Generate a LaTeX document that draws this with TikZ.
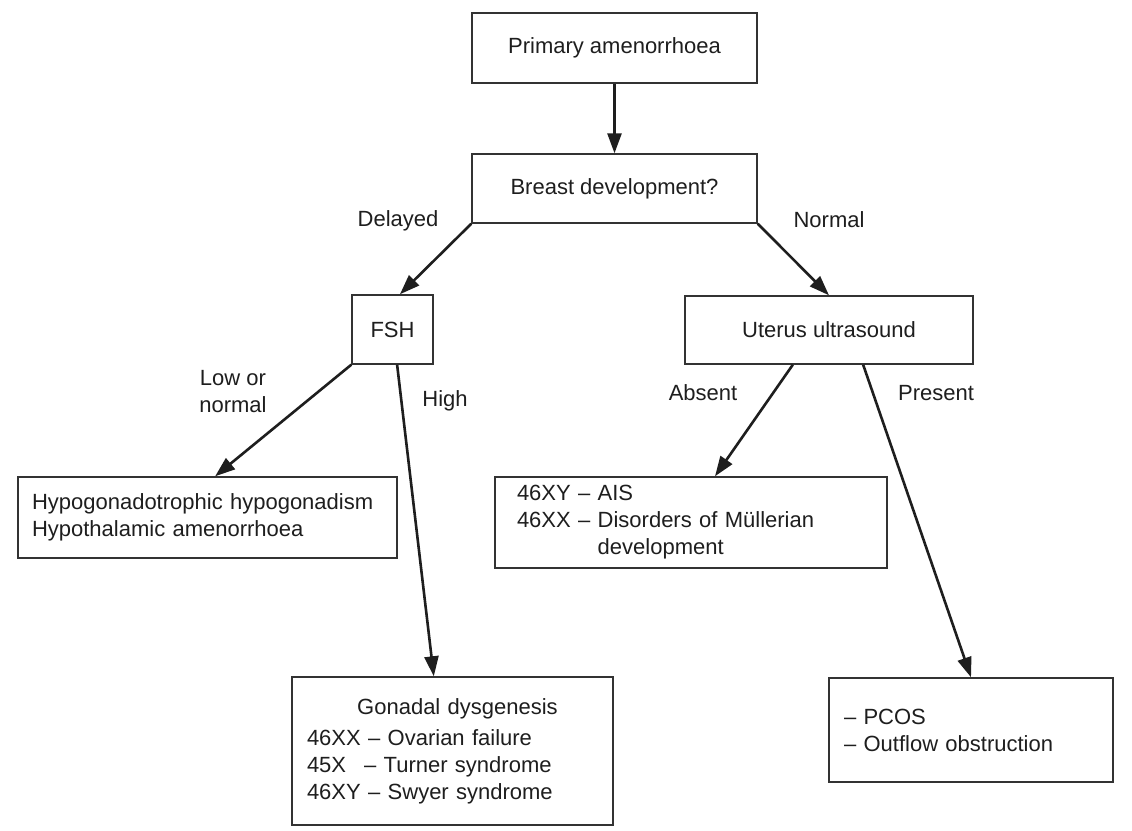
\documentclass[tikz,border=0pt]{standalone}
\usepackage{fontspec}
\setmainfont{Liberation Sans}
\usetikzlibrary{arrows.meta,calc}
\definecolor{ink}{HTML}{1E1E1E}
\definecolor{edgegray}{HTML}{333333}
\begin{document}
\begin{tikzpicture}[x=1pt,y=-1pt,
  every node/.style={font=\fontsize{22}{27}\selectfont, text=ink},
  box/.style={draw=edgegray, line width=1.4pt, inner sep=0pt, fill=white},
  lbl/.style={inner sep=0pt},
  arr/.style={draw=ink, line width=2.6pt, -{Triangle[length=20pt,width=14pt]}}
]
\fill[white] (0,0) rectangle (1132,830);
\useasboundingbox (0,0) rectangle (1132,830);

\node[box, minimum width=285pt, minimum height=70pt] (pa) at (614.5,48) {Primary amenorrhoea};
\node[box, minimum width=285pt, minimum height=69pt] (bd) at (614.5,188.5) {Breast development?};
\node[box, minimum width=81pt, minimum height=69pt] (fsh) at (392.5,329.5) {FSH\hspace{12pt}};
\node[box, minimum width=288pt, minimum height=68pt] (us) at (829,330) {Uterus ultrasound};
\node[box, minimum height=81pt, text width=351pt, inner xsep=14pt, align=left] (hh) at (207.5,517.5)
  {Hypogonadotrophic hypogonadism\\Hypothalamic amenorrhoea};
\node[box, minimum height=91pt, text width=348pt, inner xsep=22pt, align=left] (ais) at (691,522.5)
  {46XY -- AIS\\46XX -- Disorders of Müllerian\\\phantom{46XX -- }development};
\node[box, minimum height=148pt, text width=291pt, inner xsep=15pt, align=left] (gd) at (452.5,751)
  {\makebox[\linewidth]{\hspace{10pt}Gonadal dysgenesis}\\[4pt]
   46XX -- Ovarian failure\\
   45X\hspace{18pt}-- Turner syndrome\\
   46XY -- Swyer syndrome};
\node[box, minimum height=104pt, text width=254pt, inner xsep=15pt, align=left] (pc) at (971,730)
  {-- PCOS\\-- Outflow obstruction};

\node[lbl] (ldel) at (398,221) {Delayed};
\node[lbl] (lnor) at (829,220) {Normal};
\node[lbl, align=center] (llow) at (233,392) {Low or\\normal};
\node[lbl] (lhigh) at (445,401) {High};
\node[lbl] (labs) at (703,393) {Absent};
\node[lbl] (lpre) at (936,393) {Present};

\draw[arr] (pa.south) -- (bd.north);
\draw[arr] (bd.south west) -- ($(fsh.north west)!0.59!(fsh.north east)$);
\draw[arr] (bd.south east) -- (us.north);
\draw[arr] (fsh.south west) -- ($(hh.north west)!0.52!(hh.north east)$);
\draw[arr] ($(fsh.south west)!0.556!(fsh.south east)$) -- ($(gd.north west)!0.442!(gd.north east)$);
\draw[arr] ($(us.south west)!0.375!(us.south east)$) -- ($(ais.north west)!0.561!(ais.north east)$);
\draw[arr] ($(us.south west)!0.618!(us.south east)$) -- (pc.north);
\end{tikzpicture}
\end{document}
